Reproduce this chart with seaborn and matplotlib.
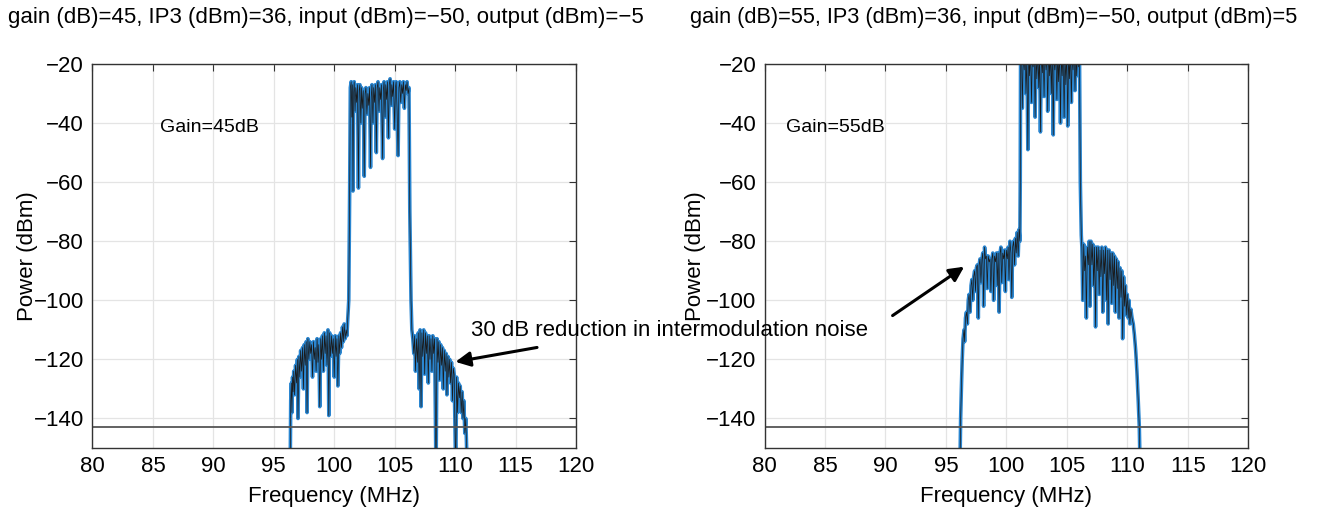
import matplotlib
matplotlib.use("Agg")
import matplotlib.pyplot as plt
import seaborn as sns
import pandas as pd

# Spectrum, gain 45 dB (left)
freq_45 = [96.35, 96.40, 96.45, 96.50, 96.55, 96.60, 96.65, 96.72, 96.80, 96.88, 96.95, 97.00, 97.08, 97.15,
           97.22, 97.30, 97.38, 97.45, 97.52, 97.60, 97.68, 97.75, 97.82, 97.90, 97.98, 98.05, 98.12, 98.20,
           98.28, 98.35, 98.42, 98.50, 98.58, 98.65, 98.72, 98.80, 98.88, 98.95, 99.02, 99.10, 99.18, 99.25,
           99.32, 99.40, 99.48, 99.55, 99.62, 99.70, 99.78, 99.85, 99.92, 100.00, 100.08, 100.15, 100.22,
           100.30, 100.38, 100.45, 100.52, 100.60, 100.68, 100.75, 100.82, 100.90, 100.98, 101.05, 101.12,
           101.20, 101.28, 101.33,
           101.40, 101.45, 101.50, 101.55, 101.60, 101.65, 101.72, 101.78, 101.85, 101.92, 102.00, 102.06,
           102.12, 102.20, 102.26, 102.32, 102.40, 102.48, 102.55, 102.62, 102.70, 102.78, 102.85, 102.92,
           103.00, 103.06, 103.12, 103.20, 103.26, 103.33, 103.40, 103.48, 103.55, 103.62, 103.70, 103.76,
           103.83, 103.90, 104.00, 104.06, 104.12, 104.20, 104.26, 104.33, 104.40, 104.48, 104.55, 104.62,
           104.70, 104.76, 104.83, 104.90, 105.00, 105.06, 105.12, 105.20, 105.28, 105.35, 105.42, 105.50,
           105.58, 105.65, 105.72, 105.80, 105.88, 105.95, 106.02, 106.10, 106.18, 106.25, 106.35, 106.42,
           106.50, 106.58, 106.65, 106.72, 106.80, 106.88, 106.95, 107.02, 107.10, 107.18, 107.25, 107.32,
           107.40, 107.48, 107.55, 107.62, 107.70, 107.78, 107.85, 107.92, 108.00, 108.08, 108.15, 108.22,
           108.30, 108.42, 108.50, 108.58, 108.65, 108.72, 108.80, 108.88, 108.95, 109.02, 109.10, 109.18,
           109.25, 109.32, 109.40, 109.48, 109.55, 109.62, 109.70, 109.78, 109.85, 109.92, 110.05, 110.12,
           110.20, 110.28, 110.35, 110.42, 110.50, 110.58, 110.65, 110.72, 110.80, 110.88, 110.95, 111.05]
power_45 = [-160, -134, -128, -138, -126, -131, -124, -132, -122, -128, -120, -140, -119, -126,
            -117, -124, -116, -130, -115, -122, -114, -138, -113, -120, -114, -118, -115, -126,
            -114, -120, -116, -124, -113, -121, -115, -136, -113, -120, -112, -124, -111, -118,
            -112, -122, -110, -139, -111, -119, -112, -118, -113, -126, -112, -119, -113,
            -129, -112, -118, -111, -116, -109, -114, -108, -113, -110, -112, -106,
            -100, -60, -28,
            -26, -38, -27, -63, -30, -26, -36, -28, -33, -27, -62, -29,
            -27, -40, -28, -35, -29, -58, -30, -28, -37, -30, -34, -28,
            -55, -31, -27, -40, -28, -33, -27, -50, -28, -26, -36, -28,
            -32, -27, -52, -29, -26, -38, -27, -32, -26, -45, -27, -25,
            -34, -27, -31, -26, -42, -28, -26, -36, -51, -28, -26, -33,
            -27, -30, -26, -35, -27, -29, -26, -30, -28, -70, -100, -110,
            -113, -118, -112, -124, -113, -121, -111, -130, -110, -136, -111, -119,
            -110, -125, -111, -118, -112, -128, -112, -120, -113, -124, -112, -118,
            -113, -160, -113, -121, -114, -127, -115, -122, -116, -130, -117, -124,
            -118, -132, -119, -126, -120, -128, -121, -134, -123, -125, -160, -126,
            -138, -128, -133, -129, -138, -131, -140, -134, -145, -140, -150, -160]

# Spectrum, gain 55 dB (right)
freq_55 = [96.15, 96.22, 96.28, 96.35, 96.42, 96.50, 96.55, 96.62, 96.70, 96.78, 96.85, 96.92, 97.00, 97.08,
           97.15, 97.22, 97.30, 97.38, 97.45, 97.52, 97.60, 97.68, 97.75, 97.82, 97.90, 97.98, 98.05, 98.12,
           98.20, 98.28, 98.35, 98.42, 98.50, 98.58, 98.65, 98.72, 98.80, 98.88, 98.95, 99.02, 99.10, 99.18,
           99.25, 99.32, 99.40, 99.48, 99.55, 99.62, 99.70, 99.78, 99.85, 99.92, 100.00, 100.08, 100.15,
           100.22, 100.30, 100.38, 100.45, 100.52, 100.60, 100.68, 100.75, 100.82, 100.90, 100.98, 101.05,
           101.12, 101.15, 101.18,
           101.25, 101.32, 101.40, 101.48, 101.55, 101.62, 101.70, 101.78, 101.85, 101.92, 102.00, 102.08,
           102.15, 102.22, 102.30, 102.38, 102.45, 102.52, 102.60, 102.68, 102.75, 102.82, 102.90, 102.98,
           103.05, 103.12, 103.20, 103.28, 103.35, 103.42, 103.50, 103.58, 103.65, 103.72, 103.80, 103.88,
           103.95, 104.02, 104.10, 104.18, 104.25, 104.32, 104.40, 104.48, 104.55, 104.62, 104.70, 104.78,
           104.85, 104.92, 105.00, 105.08, 105.15, 105.22, 105.30, 105.38, 105.45, 105.52, 105.60, 105.68,
           105.75, 105.82, 105.90, 105.98, 106.05, 106.12, 106.20,
           106.25, 106.32, 106.40, 106.48, 106.55, 106.62, 106.70, 106.78, 106.85, 106.92, 107.00, 107.08,
           107.15, 107.22, 107.30, 107.38, 107.45, 107.52, 107.60, 107.68, 107.75, 107.82, 107.90, 107.98,
           108.05, 108.12, 108.20, 108.28, 108.35, 108.42, 108.50, 108.58, 108.65, 108.72, 108.80, 108.88,
           108.95, 109.02, 109.10, 109.18, 109.25, 109.32, 109.40, 109.48, 109.55, 109.62, 109.70, 109.78,
           109.85, 109.92, 110.00, 110.08, 110.15, 110.22, 110.30, 110.40, 110.50, 110.60, 110.70, 110.80,
           110.90, 111.00, 111.08]
power_55 = [-160, -140, -130, -120, -113, -110, -114, -106, -104, -108, -100, -98, -104, -95,
            -93, -100, -92, -90, -97, -89, -88, -106, -88, -86, -94, -86, -84, -102,
            -82, -86, -85, -96, -85, -87, -86, -97, -86, -84, -100, -85, -87, -84,
            -95, -84, -104, -84, -82, -94, -84, -86, -83, -97, -83, -86, -82,
            -93, -80, -84, -99, -82, -80, -88, -79, -84, -77, -85, -76,
            -80, -60, -15,
            -14, -35, -16, -22, -15, -30, -17, -49, -16, -24, -15, -33,
            -17, -21, -15, -38, -16, -25, -15, -28, -16, -43, -15, -23,
            -16, -31, -15, -22, -16, -36, -15, -24, -16, -30, -15, -44,
            -16, -22, -15, -32, -16, -26, -15, -40, -16, -24, -15, -38,
            -16, -27, -15, -41, -16, -25, -15, -33, -16, -22, -15, -29,
            -16, -24, -15, -21, -16, -60, -78,
            -82, -100, -81, -90, -85, -106, -82, -88, -80, -102, -80, -88,
            -81, -95, -82, -109, -82, -90, -82, -98, -83, -92, -82, -104,
            -83, -91, -82, -100, -83, -108, -83, -93, -84, -101, -84, -95,
            -85, -104, -86, -96, -87, -106, -89, -99, -90, -113, -92, -102,
            -95, -105, -98, -106, -100, -108, -103, -106, -108, -112, -117, -124,
            -133, -143, -160]

noise_floor = -143
panel_titles = ["gain (dB)=45, IP3 (dBm)=36, input (dBm)=\u221250, output (dBm)=\u22125",
                "gain (dB)=55, IP3 (dBm)=36, input (dBm)=\u221250, output (dBm)=5"]
gain_labels = ["Gain=45dB", "Gain=55dB"]
gain_label_x = [85.6, 81.8]
ylabel_x = [-0.112, -0.121]
x_ticks = [80, 85, 90, 95, 100, 105, 110, 115, 120]
y_ticks = [-140, -120, -100, -80, -60, -40, -20]

sns.set_style("whitegrid")
plt.rcParams['font.family'] = ['Liberation Sans', 'DejaVu Sans']
plt.rcParams['axes.unicode_minus'] = True
plt.rcParams['text.color'] = 'black'
plt.rcParams['axes.labelcolor'] = 'black'
plt.rcParams['xtick.color'] = 'black'
plt.rcParams['ytick.color'] = 'black'

fig = plt.figure(figsize=(13.23, 5.14), dpi=100)
ax1 = fig.add_axes([0.0699, 0.1284, 0.3655, 0.7471])
ax2 = fig.add_axes([0.5779, 0.1284, 0.3655, 0.7471])

spectra = [pd.DataFrame({'freq': freq_45, 'power': power_45}),
           pd.DataFrame({'freq': freq_55, 'power': power_55})]

for ax, df, glabel, gx, lx in zip([ax1, ax2], spectra, gain_labels, gain_label_x, ylabel_x):
    # blue trace with a thin dark trace on top (as in the original MATLAB plot)
    sns.lineplot(data=df, x='freq', y='power', ax=ax, color='#2b86d0', lw=2.6, estimator=None, sort=False)
    sns.lineplot(data=df, x='freq', y='power', ax=ax, color='#1a1a1a', lw=0.5, estimator=None, sort=False)
    ax.axhline(noise_floor, color='#555555', lw=1.3)
    ax.set_xlim(80, 120)
    ax.set_ylim(-150, -20)
    ax.set_xticks(x_ticks)
    ax.set_yticks(y_ticks)
    ax.set_xlabel('Frequency (MHz)', fontsize=16, labelpad=6)
    ax.set_ylabel('Power (dBm)', fontsize=16)
    ax.yaxis.set_label_coords(lx, 0.5)
    ax.tick_params(labelsize=16, direction='in', length=5, top=True, right=True, color='#333333', pad=6)
    ax.grid(True, color='#e4e4e4', lw=0.9)
    for s in ax.spines.values():
        s.set_color('#333333')
        s.set_linewidth(1.0)
    ax.text(gx, -41.4, glabel, fontsize=14, va='center')

fig.text(8 / 1323, 1 - 18 / 514, panel_titles[0], fontsize=16, va='center', ha='left')
fig.text(690 / 1323, 1 - 18 / 514, panel_titles[1], fontsize=15.7, va='center', ha='left')

arrow = dict(arrowstyle='-|>', color='black', lw=2.2, mutation_scale=22)
ax1.annotate('', xy=(109.8, -121), xytext=(117.0, -115.8), arrowprops=arrow, annotation_clip=False)
ax2.annotate('', xy=(96.7, -88.1), xytext=(90.4, -105.7), arrowprops=arrow)
fig.text(111.3, -110.2, '30 dB reduction in intermodulation noise', fontsize=16, va='center', ha='left',
         transform=ax1.transData, zorder=5)

fig.savefig('out.png', dpi=100)
